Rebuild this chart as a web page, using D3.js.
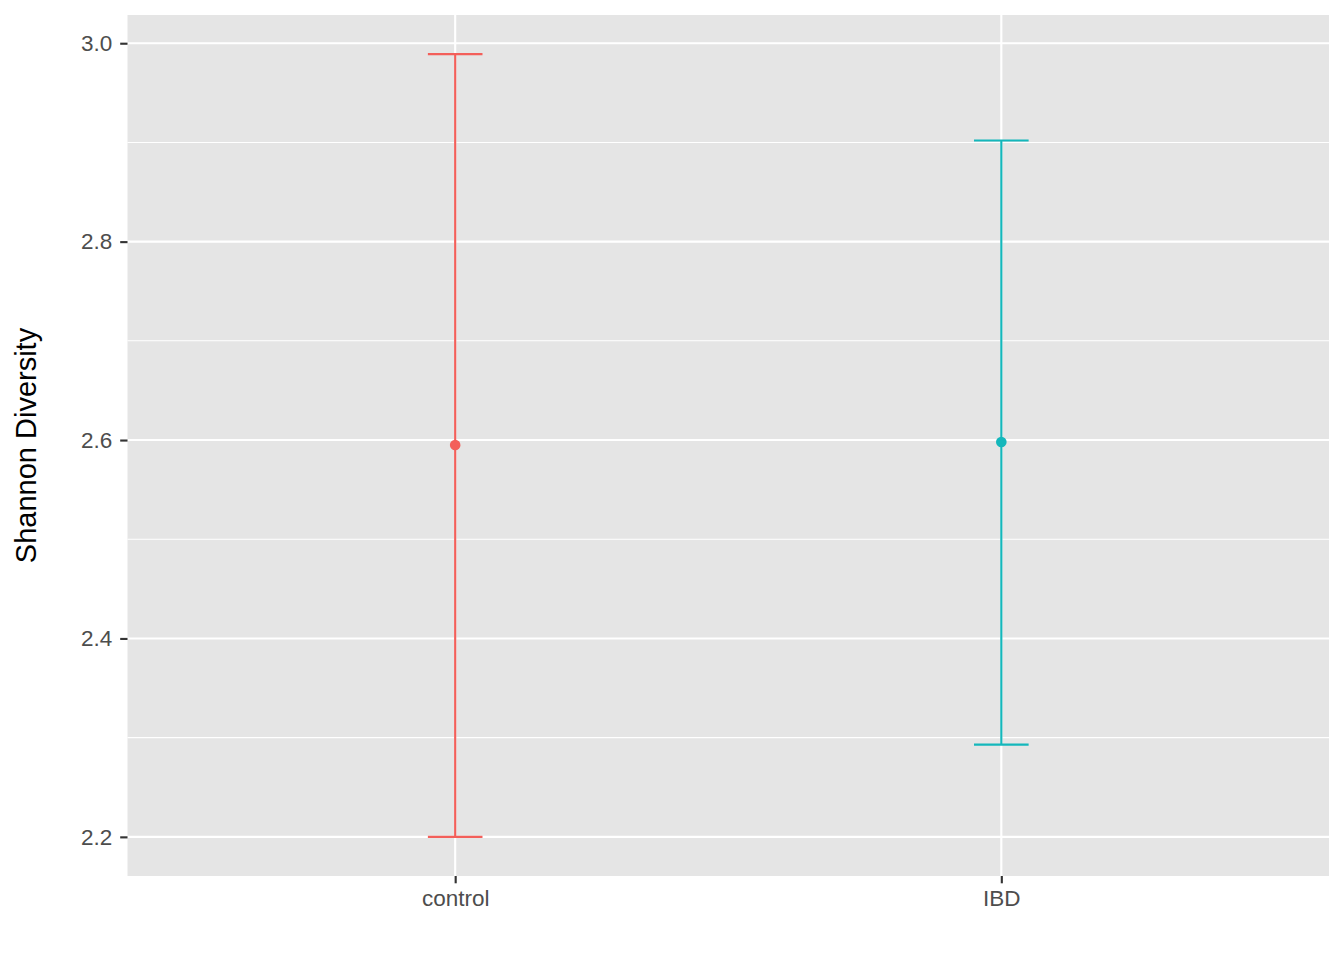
<!DOCTYPE html>
<html><head><meta charset="utf-8">
<script src="https://cdn.jsdelivr.net/npm/d3@7"></script>
<style>body{margin:0;background:#fff;} text{font-family:"Liberation Sans",Arial,Helvetica,sans-serif;}</style>
</head><body>
<svg id="c" width="1344" height="960"></svg>
<script>
const categories = ["control", "IBD"];
const means = [2.595, 2.598];
const lower = [2.200, 2.293];
const upper = [2.989, 2.902];
const colors = ["#F35F5A", "#14B7BB"];
const yTicks = [2.2, 2.4, 2.6, 2.8, 3.0];
const yMinor = [2.3, 2.5, 2.7, 2.9];
const yTitle = "Shannon Diversity";

(function () {
const svg = d3.select("#c");
const pL = 127.5, pR = 1329, pT = 15, pB = 876;

const lo = d3.min(lower), hi = d3.max(upper), pad = (hi - lo) * 0.05;
const y = d3.scaleLinear().domain([lo - pad, hi + pad]).range([pB, pT]);
const x = d3.scaleLinear().domain([0.4, categories.length + 0.6]).range([pL, pR]);

svg.append("rect").attr("x", pL).attr("y", pT).attr("width", pR - pL).attr("height", pB - pT).attr("fill", "#E5E5E5");

const g = svg.append("g");
g.selectAll("line.minor").data(yMinor).join("line")
  .attr("x1", pL).attr("x2", pR).attr("y1", d => y(d)).attr("y2", d => y(d))
  .attr("stroke", "#fff").attr("stroke-width", 1.07);
g.selectAll("line.major").data(yTicks).join("line")
  .attr("x1", pL).attr("x2", pR).attr("y1", d => y(d)).attr("y2", d => y(d))
  .attr("stroke", "#fff").attr("stroke-width", 2.13);
g.selectAll("line.vmaj").data(categories).join("line")
  .attr("x1", (d, i) => x(i + 1)).attr("x2", (d, i) => x(i + 1)).attr("y1", pT).attr("y2", pB)
  .attr("stroke", "#fff").attr("stroke-width", 2.13);

const yAxis = d3.axisLeft(y).tickValues(yTicks).tickFormat(d3.format(".1f")).tickSize(7.3).tickPadding(8);
const ya = svg.append("g").attr("transform", `translate(${pL},0)`).call(yAxis);
ya.select(".domain").remove();
ya.selectAll(".tick line").attr("stroke", "#333333").attr("stroke-width", 2.13);
ya.selectAll(".tick text").attr("fill", "#4D4D4D").style("font-size", "22.5px").style("font-family", "Liberation Sans, Arial, sans-serif");

const xAxis = d3.axisBottom(x).tickValues(categories.map((d, i) => i + 1)).tickFormat((d) => categories[d - 1]).tickSize(7.3).tickPadding(6.5);
const xa = svg.append("g").attr("transform", `translate(0,${pB})`).call(xAxis);
xa.select(".domain").remove();
xa.selectAll(".tick line").attr("stroke", "#333333").attr("stroke-width", 2.13);
xa.selectAll(".tick text").attr("fill", "#4D4D4D").style("font-size", "22.5px").style("font-family", "Liberation Sans, Arial, sans-serif");

svg.append("text").attr("transform", `translate(36,${(pT + pB) / 2}) rotate(-90)`)
  .attr("text-anchor", "middle").attr("fill", "#000").style("font-size", "29px").text(yTitle);

const capHalf = (x(1.05) - x(1));
const eb = svg.append("g").selectAll("g").data(categories).join("g");
eb.append("line").attr("x1", (d, i) => x(i + 1)).attr("x2", (d, i) => x(i + 1))
  .attr("y1", (d, i) => y(lower[i])).attr("y2", (d, i) => y(upper[i]))
  .attr("stroke", (d, i) => colors[i]).attr("stroke-width", 2.13);
eb.append("line").attr("x1", (d, i) => x(i + 1) - capHalf).attr("x2", (d, i) => x(i + 1) + capHalf)
  .attr("y1", (d, i) => y(upper[i])).attr("y2", (d, i) => y(upper[i]))
  .attr("stroke", (d, i) => colors[i]).attr("stroke-width", 2.13);
eb.append("line").attr("x1", (d, i) => x(i + 1) - capHalf).attr("x2", (d, i) => x(i + 1) + capHalf)
  .attr("y1", (d, i) => y(lower[i])).attr("y2", (d, i) => y(lower[i]))
  .attr("stroke", (d, i) => colors[i]).attr("stroke-width", 2.13);
eb.append("circle").attr("cx", (d, i) => x(i + 1)).attr("cy", (d, i) => y(means[i])).attr("r", 5.3)
  .attr("fill", (d, i) => colors[i]);
})();
</script>
</body></html>
